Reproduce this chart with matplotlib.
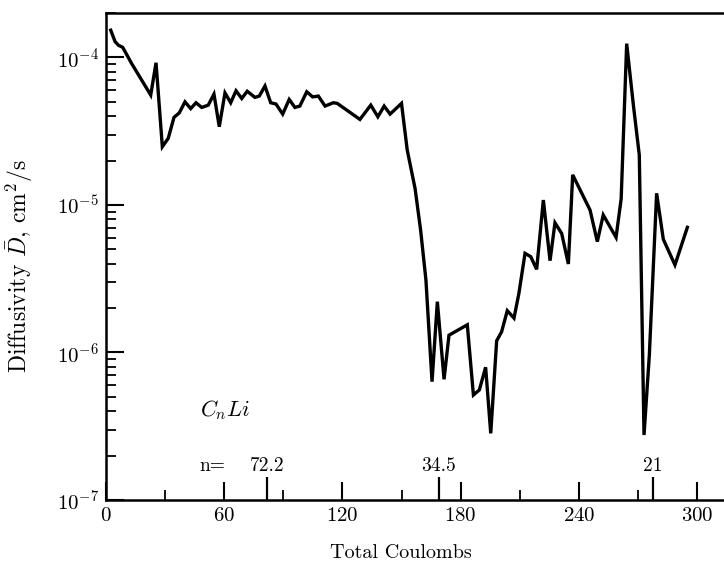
import matplotlib
matplotlib.use('Agg')
import matplotlib.pyplot as plt
from matplotlib.ticker import MultipleLocator, LogLocator, NullFormatter

plt.rcParams['font.family'] = 'serif'
plt.rcParams['font.serif'] = ['cmr10', 'DejaVu Serif']
plt.rcParams['mathtext.fontset'] = 'cm'
plt.rcParams['axes.formatter.use_mathtext'] = True
plt.rcParams['font.size'] = 12

# total coulombs vs diffusivity (cm^2/s)
coulombs = [2.4, 4.6, 6.3, 8.5, 13.0, 22.7, 25.4, 28.6, 31.6, 34.5, 37.2, 40.1,
            43.0, 45.7, 48.6, 51.9, 54.8, 57.5, 60.4, 63.3, 66.0, 68.9, 71.7,
            75.6, 77.8, 80.7, 83.6, 86.3, 89.7, 93.0, 95.9, 98.4, 101.9, 104.9,
            107.8, 111.2, 115.4, 117.4, 128.9, 134.4, 138.0, 141.2, 144.2,
            150.0, 152.9, 156.9, 159.7, 162.4, 165.5, 168.2, 171.6, 174.1,
            183.4, 186.5, 189.5, 192.7, 195.3, 198.3, 200.8, 203.7, 207.1,
            209.6, 212.7, 215.6, 218.6, 222.0, 225.4, 227.9, 231.3, 234.7,
            236.9, 245.7, 249.4, 252.4, 258.9, 261.5, 264.3, 267.7, 270.7,
            273.1, 275.8, 279.5, 282.9, 288.8, 295.1]
diffusivity = [1.53e-4, 1.28e-4, 1.21e-4, 1.17e-4, 9.1e-5, 5.56e-5, 9.2e-5,
               2.48e-5, 2.83e-5, 3.92e-5, 4.21e-5, 5.0e-5, 4.5e-5, 4.93e-5,
               4.58e-5, 4.75e-5, 5.64e-5, 3.39e-5, 5.75e-5, 4.93e-5, 5.94e-5,
               5.27e-5, 5.9e-5, 5.36e-5, 5.47e-5, 6.4e-5, 4.93e-5, 4.83e-5,
               4.13e-5, 5.19e-5, 4.58e-5, 4.68e-5, 5.85e-5, 5.4e-5, 5.47e-5,
               4.68e-5, 4.93e-5, 4.88e-5, 3.8e-5, 4.75e-5, 3.96e-5, 4.68e-5,
               4.13e-5, 4.88e-5, 2.36e-5, 1.29e-5, 6.76e-6, 3.1e-6, 6.34e-7,
               2.21e-6, 6.58e-7, 1.31e-6, 1.54e-6, 5.15e-7, 5.57e-7, 7.94e-7,
               2.83e-7, 1.2e-6, 1.38e-6, 1.92e-6, 1.71e-6, 2.52e-6, 4.7e-6,
               4.46e-6, 3.66e-6, 1.08e-5, 4.19e-6, 7.57e-6, 6.41e-6, 3.98e-6,
               1.6e-5, 9.24e-6, 5.64e-6, 8.55e-6, 6.03e-6, 1.1e-5, 1.24e-4,
               4.75e-5, 2.18e-5, 2.76e-7, 9.6e-7, 1.2e-5, 5.85e-6, 3.92e-6,
               7.05e-6]

# stage markers (n in C_nLi) along the coulomb axis
stage_x = [81.6, 168.9, 277.5]
stage_n = ['72.2', '34.5', '21']

fig = plt.figure(figsize=(7.24, 5.61), dpi=100)
ax = fig.add_axes([0.1464, 0.1087, 0.8536, 0.8681])

ax.plot(coulombs, diffusivity, color='black', lw=2.4, solid_joinstyle='miter')

ax.set_yscale('log')
ax.set_xlim(0, 313.7)
ax.set_ylim(1e-7, 2.0e-4)

ax.xaxis.set_major_locator(MultipleLocator(60))
ax.xaxis.set_minor_locator(MultipleLocator(30))
ax.yaxis.set_major_locator(LogLocator(base=10, numticks=10))
ax.yaxis.set_minor_locator(LogLocator(base=10, subs=range(2, 10), numticks=10))
ax.yaxis.set_minor_formatter(NullFormatter())

ax.tick_params(which='major', direction='in', length=13, width=1.5, labelsize=15, pad=5)
ax.tick_params(which='minor', direction='in', length=7, width=1.3)
ax.tick_params(axis='x', top=False)
ax.tick_params(axis='y', right=False)

for s in ['left', 'bottom', 'top']:
    ax.spines[s].set_linewidth(1.8)
ax.spines['right'].set_visible(False)

# stage marks
tr = ax.get_xaxis_transform()
ax.vlines(stage_x, 0, 0.047, transform=tr, color='black', lw=1.6)
for x, n in zip(stage_x, stage_n):
    ax.text(x, 0.07, n, transform=tr, ha='center', va='center', fontsize=14)
ax.text(47.5, 0.07, 'n=', transform=tr, ha='left', va='center', fontsize=14)

ax.text(47.5, 0.185, r'$C_nLi$', transform=tr, ha='left', va='center', fontsize=16)

ax.set_ylabel(r'Diffusivity $\bar{D}$, cm$^2$/s', fontsize=17)
ax.yaxis.set_label_coords(-0.115, 0.48)
ax.set_xlabel('Total Coulombs', fontsize=14.5)
ax.xaxis.set_label_coords(0.477, -0.09)

fig.savefig('out.png', dpi=100)
